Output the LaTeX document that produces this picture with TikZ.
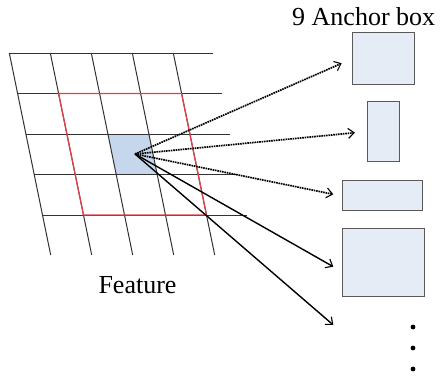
\documentclass[tikz,border=0pt]{standalone}
\usepackage{fontspec}
\setmainfont{Liberation Serif}
\usepackage{xcolor}
\usetikzlibrary{positioning,calc,arrows.meta}

\definecolor{boxfill}{HTML}{E6ECF6}
\definecolor{cellfill}{HTML}{C6D6EC}
\definecolor{gridred}{HTML}{E0404A}

\begin{document}
\begin{tikzpicture}[
    x=1pt, y=-1pt,
    gridline/.style={draw=black!80, line width=1pt},
    redline/.style={draw=gridred, line width=1.3pt},
    anchorbox/.style={draw=black!65, fill=boxfill, line width=1pt, inner sep=0pt},
    dotarrow/.style={dash pattern=on 1.6pt off 0.8pt, line width=1.7pt, -{Straight Barb[length=6pt, width=10pt, line width=1.1pt]}},
    solidarrow/.style={line width=1.4pt, -{Straight Barb[length=6pt, width=10pt, line width=1.1pt]}},
    label/.style={font=\fontsize{26}{30}\selectfont, inner sep=0pt}
]
\useasboundingbox (0,0) rectangle (440,376);

% blue cell
\fill[cellfill] (107.9,134) -- (148.9,134) -- (157.2,174.5) -- (116.2,174.5) -- cycle;

% feature grid
\foreach \i in {0,...,4} {
    \draw[gridline] ({9.3+8.3*\i},{53+40.5*\i}) -- ++(204,0);
}
\foreach \j in {0,...,4} {
    \draw[gridline] ({9.3+41*\j},53) -- ++(41.4,202);
}
\draw[redline] (58.6,93.5) -- (181.6,93.5) -- (206.5,215) -- (83.5,215) -- cycle;

% anchor boxes
\node[anchorbox, minimum width=62pt, minimum height=52pt] (box1) at (383,58) {};
\node[anchorbox, minimum width=32pt, minimum height=60pt] (box2) at (383,131.7) {};
\node[anchorbox, minimum width=80pt, minimum height=30pt] (box3) at (382.5,195) {};
\node[anchorbox, minimum width=82pt, minimum height=68pt] (box4) at (383,262.5) {};

\foreach \y [count=\k] in {327,348,369} {
    \fill (413,\y) circle (2.4pt) coordinate (dot\k);
}

% arrows
\coordinate (centre) at (135,154);
\coordinate (tip1) at (341.7,63.3);
\coordinate (tip2) at (355,132.7);
\coordinate (tip3) at (333.3,194.3);
\coordinate (tip4) at (333.3,266.7);
\coordinate (tip5) at (333.3,325);
\foreach \t in {1,2,3} {
    \draw[dotarrow] (centre) -- (tip\t);
}
\foreach \t in {4,5} {
    \draw[solidarrow] (centre) -- (tip\t);
}

% labels
\node[label, anchor=base west] (title) at (292,25) {9 Anchor box};
\node[label, anchor=base] (feature) at (137.5,293.5) {Feature};
\end{tikzpicture}
\end{document}
